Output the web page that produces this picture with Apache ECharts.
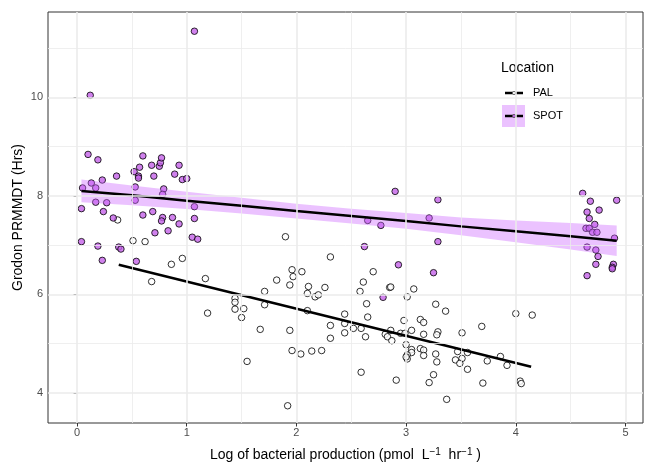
<!DOCTYPE html>
<html>
<head>
<meta charset="utf-8">
<script src="https://cdn.jsdelivr.net/npm/echarts@6/dist/echarts.min.js"></script>
<style>
  html, body { margin: 0; padding: 0; background: #fff; }
  #chart { width: 645px; height: 462px; }
</style>
</head>
<body>
<div id="chart"></div>
<script>
// values
var palX = [0.37,0.51,0.62,0.96,0.86,0.68,1.17,1.44,1.44,1.44,1.52,1.19,1.50,1.71,1.71,1.67,1.55,1.90,2.31,1.96,
  1.97,2.05,1.82,1.94,2.11,2.26,2.10,2.17,2.20,2.10,1.94,2.31,2.31,2.44,2.44,2.44,2.52,2.59,2.63,2.65,
  2.64,2.61,2.58,2.70,2.85,2.86,3.07,3.01,3.27,3.36,2.98,3.13,3.16,3.05,2.81,2.83,2.87,2.86,2.95,2.99,
  3.16,3.29,3.28,1.96,2.04,2.14,2.23,3.00,3.05,3.05,3.01,3.13,3.16,3.16,3.27,3.01,3.00,2.59,2.91,1.92,
  3.28,3.25,3.21,3.51,3.69,4.00,4.15,3.47,3.56,3.45,3.51,3.49,3.56,3.74,3.86,3.92,3.70,4.04,4.05,3.37];
var palY = [7.51,7.09,7.07,6.73,6.61,6.26,6.32,5.92,5.84,5.70,5.71,5.62,5.53,6.06,5.79,5.29,4.64,7.17,6.76,6.50,
  6.36,6.46,6.29,6.19,6.16,6.14,6.02,5.95,5.99,5.67,5.27,5.37,5.11,5.60,5.41,5.22,5.31,5.31,5.14,5.54,
  5.81,6.25,6.06,6.46,6.14,6.15,6.11,5.95,5.80,5.66,5.47,5.49,5.43,5.27,5.19,5.14,5.06,5.27,5.21,5.21,
  5.19,5.24,5.18,4.86,4.79,4.85,4.86,4.98,4.88,4.82,4.77,4.90,4.87,4.76,4.79,4.69,4.73,4.42,4.26,3.74,
  4.63,4.37,4.21,5.22,5.35,5.61,5.58,4.84,4.82,4.67,4.70,4.60,4.48,4.65,4.74,4.56,4.20,4.24,4.19,3.87];

var spotX = [1.07,0.12,0.10,0.19,0.05,0.13,0.17,0.23,0.04,0.17,0.27,0.24,0.33,0.36,0.04,0.19,0.38,0.40,0.52,0.60,
  0.57,0.56,0.56,0.53,0.53,0.68,0.75,0.76,0.77,0.70,0.79,0.78,0.89,0.93,0.96,1.00,0.60,0.69,0.78,0.77,
  0.87,0.93,1.07,1.07,0.83,0.71,1.05,1.10,0.23,0.54,2.90,3.29,2.65,2.77,3.21,3.29,2.62,2.93,3.25,2.79,
  4.61,4.68,4.92,4.65,4.67,4.76,4.72,4.64,4.67,4.70,4.74,4.90,4.65,4.73,4.75,4.73,4.89,4.88,4.88,4.65];
var spotY = [11.34,10.04,8.84,8.73,8.16,8.26,8.16,8.32,7.74,7.87,7.86,7.68,7.55,8.40,7.07,6.98,6.96,6.92,8.49,8.81,
  8.58,8.40,8.36,8.18,7.91,8.62,8.60,8.67,8.77,8.40,8.14,8.03,8.44,8.62,8.33,8.35,7.61,7.68,7.56,7.49,
  7.56,7.43,7.78,7.54,7.29,7.25,7.16,7.12,6.69,6.67,8.09,7.92,7.50,7.40,7.55,7.07,6.97,6.60,6.44,5.94,
  8.05,7.89,7.91,7.67,7.54,7.71,7.42,7.34,7.34,7.26,7.26,7.14,6.96,6.90,6.77,6.61,6.61,6.55,6.52,6.38];

// fitted lines and SPOT confidence band
var palFitX = [0.38, 4.14];
var palFitY = [6.60, 4.53];
var spotFitX = [0.04, 0.5, 1.0, 1.5, 2.0, 2.5, 3.0, 3.5, 4.0, 4.5, 4.92];
var spotFitY = [8.10, 8.01, 7.90, 7.80, 7.69, 7.59, 7.49, 7.38, 7.28, 7.18, 7.09];
var spotLo   = [7.87, 7.81, 7.73, 7.64, 7.54, 7.44, 7.33, 7.20, 7.06, 6.91, 6.78];
var spotHi   = [8.33, 8.21, 8.08, 7.96, 7.84, 7.74, 7.65, 7.56, 7.50, 7.45, 7.40];

var xTicks = [0, 1, 2, 3, 4, 5];
var xMinor = [0.5, 1.5, 2.5, 3.5, 4.5];
var yTicks = [4, 6, 8, 10];
var yMinor = [5, 7, 9, 11];

var purple = '#c462e8';
var font = 'Liberation Sans, Arial, sans-serif';

function zip(a, b) {
  return a.map(function (v, i) { return [v, b[i]]; });
}

var gridLines = [];
xMinor.forEach(function (v) { gridLines.push({ xAxis: v, lineStyle: { width: 0.8 } }); });
yMinor.forEach(function (v) { gridLines.push({ yAxis: v, lineStyle: { width: 0.8 } }); });
xTicks.forEach(function (v) { gridLines.push({ xAxis: v, lineStyle: { width: 1.6 } }); });
yTicks.forEach(function (v) { gridLines.push({ yAxis: v, lineStyle: { width: 1.6 } }); });

var chart = echarts.init(document.getElementById('chart'));

var option = {
  animation: false,
  textStyle: { fontFamily: font },
  grid: {
    left: 48, right: 2, top: 12, bottom: 39,
    outerBoundsMode: 'none',
    containLabel: false,
    show: true, borderColor: '#333', borderWidth: 1, backgroundColor: '#fff'
  },
  xAxis: {
    type: 'value',
    min: -0.265, max: 5.16,
    splitLine: { show: false },
    axisLine: { show: false },
    axisTick: { show: true, length: 3.5, customValues: xTicks, lineStyle: { color: '#333' } },
    axisLabel: { customValues: xTicks, color: '#4d4d4d', fontSize: 11, margin: 4 },
    name: 'Log of bacterial production (pmol  L{s|−1}  hr{s|−1} )',
    nameLocation: 'middle',
    nameGap: 24,
    nameMoveOverlap: false,
    nameTextStyle: {
      color: '#000', fontSize: 14, fontFamily: font,
      rich: { s: { fontSize: 10, padding: [0, 0, 7, 0], color: '#000' } }
    }
  },
  yAxis: {
    type: 'value',
    min: 3.39, max: 11.73,
    splitLine: { show: false },
    axisLine: { show: false },
    axisTick: { show: true, length: 3.5, customValues: yTicks, lineStyle: { color: '#333' } },
    axisLabel: { customValues: yTicks, color: '#4d4d4d', fontSize: 11, margin: 5 },
    name: 'Grodon PRMMDT (Hrs)',
    nameLocation: 'middle',
    nameGap: 23,
    nameMoveOverlap: false,
    nameTextStyle: { color: '#000', fontSize: 14, fontFamily: font }
  },
  series: [
    {
      // panel grid
      type: 'line',
      data: [],
      z: 1,
      markLine: {
        silent: true,
        symbol: 'none',
        label: { show: false },
        lineStyle: { color: '#ebebeb', type: 'solid' },
        data: gridLines
      }
    },
    {
      name: 'PAL',
      type: 'scatter',
      z: 2,
      symbolSize: 6.5,
      itemStyle: { color: '#fff', borderColor: '#000', borderWidth: 1 },
      data: zip(palX, palY)
    },
    {
      name: 'SPOT',
      type: 'scatter',
      z: 2,
      symbolSize: 6.5,
      itemStyle: { color: purple, borderColor: '#000', borderWidth: 1 },
      data: zip(spotX, spotY)
    },
    {
      // SPOT confidence band
      type: 'custom',
      z: 3,
      silent: true,
      data: spotFitX.map(function (x, i) { return [x, spotLo[i], spotHi[i]]; }),
      renderItem: function (params, api) {
        if (params.dataIndex !== 0) return;
        var pts = [];
        for (var i = 0; i < spotFitX.length; i++) pts.push(api.coord([spotFitX[i], spotHi[i]]));
        for (var j = spotFitX.length - 1; j >= 0; j--) pts.push(api.coord([spotFitX[j], spotLo[j]]));
        return {
          type: 'polygon',
          shape: { points: pts },
          style: { fill: 'rgba(204,102,255,0.4)', stroke: null }
        };
      }
    },
    {
      type: 'line',
      z: 4,
      symbol: 'none',
      lineStyle: { color: '#000', width: 2.5 },
      data: zip(palFitX, palFitY)
    },
    {
      type: 'line',
      z: 4,
      symbol: 'none',
      lineStyle: { color: '#000', width: 2.5 },
      data: zip(spotFitX, spotFitY)
    }
  ],
  graphic: [
    { type: 'text', left: 501, top: 61, style: { text: 'Location', fontSize: 14, fill: '#000', fontFamily: font } },
    { type: 'line', shape: { x1: 505, y1: 93, x2: 523, y2: 93 }, style: { stroke: '#000', lineWidth: 2.5 } },
    { type: 'circle', shape: { cx: 514, cy: 93, r: 1.6 }, style: { fill: '#fff', stroke: '#555', lineWidth: 0.8 } },
    { type: 'text', left: 533, top: 87, style: { text: 'PAL', fontSize: 11, fill: '#000', fontFamily: font } },
    { type: 'rect', shape: { x: 502, y: 105, width: 23, height: 22 }, style: { fill: 'rgba(204,102,255,0.4)' } },
    { type: 'line', shape: { x1: 505, y1: 116, x2: 523, y2: 116 }, style: { stroke: '#000', lineWidth: 2.5 } },
    { type: 'circle', shape: { cx: 514, cy: 116, r: 1.6 }, style: { fill: purple, stroke: '#555', lineWidth: 0.8 } },
    { type: 'text', left: 533, top: 110, style: { text: 'SPOT', fontSize: 11, fill: '#000', fontFamily: font } }
  ]
};

chart.setOption(option);
</script>
</body>
</html>
